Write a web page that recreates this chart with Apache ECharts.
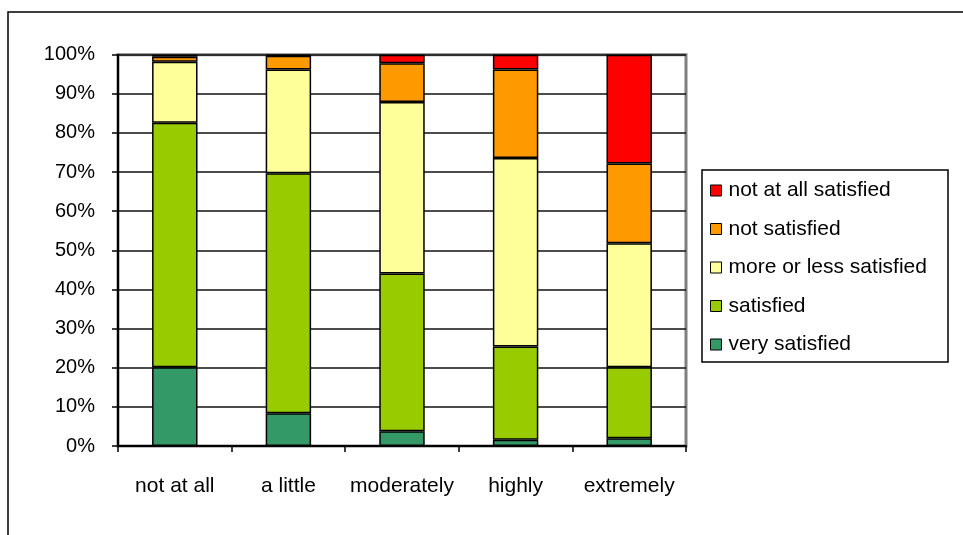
<!DOCTYPE html>
<html>
<head>
<meta charset="utf-8">
<script src="https://cdn.jsdelivr.net/npm/echarts@6/dist/echarts.min.js"></script>
<style>
html,body{margin:0;padding:0;background:#fff;}
#c{width:963px;height:535px;}
</style>
</head>
<body>
<div id="c"></div>
<script>
var categories = ['not at all', 'a little', 'moderately', 'highly', 'extremely'];
var verySatisfied = [20.1, 8.4, 3.8, 1.6, 2.0];
var satisfied = [62.5, 61.3, 40.3, 23.8, 18.1];
var moreOrLess = [15.6, 26.5, 43.8, 48.2, 31.7];
var notSatisfied = [1.3, 3.5, 9.9, 22.6, 20.4];
var notAtAll = [0.5, 0.3, 2.2, 3.8, 27.8];
var yTicks = [0, 10, 20, 30, 40, 50, 60, 70, 80, 90, 100];

var FONT = '"Liberation Sans", Arial, sans-serif';
function ser(name, data, color) {
  return {
    name: name, type: 'bar', stack: 'all', data: data, barWidth: '40%',
    itemStyle: { color: color, borderColor: '#000', borderWidth: 1.5 },
    emphasis: { disabled: true }
  };
}
var chart = echarts.init(document.getElementById('c'), null, { renderer: 'canvas' });
chart.setOption({
  animation: false,
  backgroundColor: '#fff',
  textStyle: { fontFamily: FONT },
  graphic: [
    { type: 'rect', z: -10, shape: { x: 8, y: 12, width: 1200, height: 800 },
      style: { fill: 'none', stroke: '#000', lineWidth: 1.5 } },
    { type: 'rect', z: -10, shape: { x: 702, y: 170, width: 246, height: 192 },
      style: { fill: '#fff', stroke: '#000', lineWidth: 1.5 } }
  ],
  grid: { left: 118, right: 277, top: 54.7, bottom: 89, show: true,
          borderColor: '#808080', borderWidth: 3, backgroundColor: '#fff' },
  legend: {
    orient: 'vertical', left: 702, top: 170, padding: [10, 8, 7, 8],
    itemGap: 17.5, itemWidth: 11, itemHeight: 11, icon: 'rect',
    data: ['not at all satisfied', 'not satisfied', 'more or less satisfied', 'satisfied', 'very satisfied'],
    textStyle: { fontFamily: FONT, fontSize: 21, color: '#000', padding: [0, 0, 0, 2] },
    itemStyle: { borderColor: '#000', borderWidth: 1 }
  },
  xAxis: {
    type: 'category', data: categories,
    axisLine: { lineStyle: { color: '#000', width: 2 } },
    axisTick: { show: true, interval: 0, length: 6, lineStyle: { color: '#000', width: 1.5 } },
    axisLabel: { color: '#000', fontSize: 21, fontFamily: FONT, margin: 30, interval: 0 }
  },
  yAxis: {
    type: 'value', min: yTicks[0], max: yTicks[yTicks.length - 1], interval: 10,
    axisLine: { show: true, lineStyle: { color: '#000', width: 2 } },
    axisTick: { show: true, length: 6, lineStyle: { color: '#000', width: 1.5 } },
    splitLine: { show: true, lineStyle: { color: '#111', width: 1.5 } },
    axisLabel: { color: '#000', fontSize: 20, fontFamily: FONT, margin: 23, formatter: '{value}%' }
  },
  series: [
    ser('very satisfied', verySatisfied, '#339966'),
    ser('satisfied', satisfied, '#99CC00'),
    ser('more or less satisfied', moreOrLess, '#FFFF99'),
    ser('not satisfied', notSatisfied, '#FF9900'),
    ser('not at all satisfied', notAtAll, '#FF0000')
  ]
});
</script>
</body>
</html>
